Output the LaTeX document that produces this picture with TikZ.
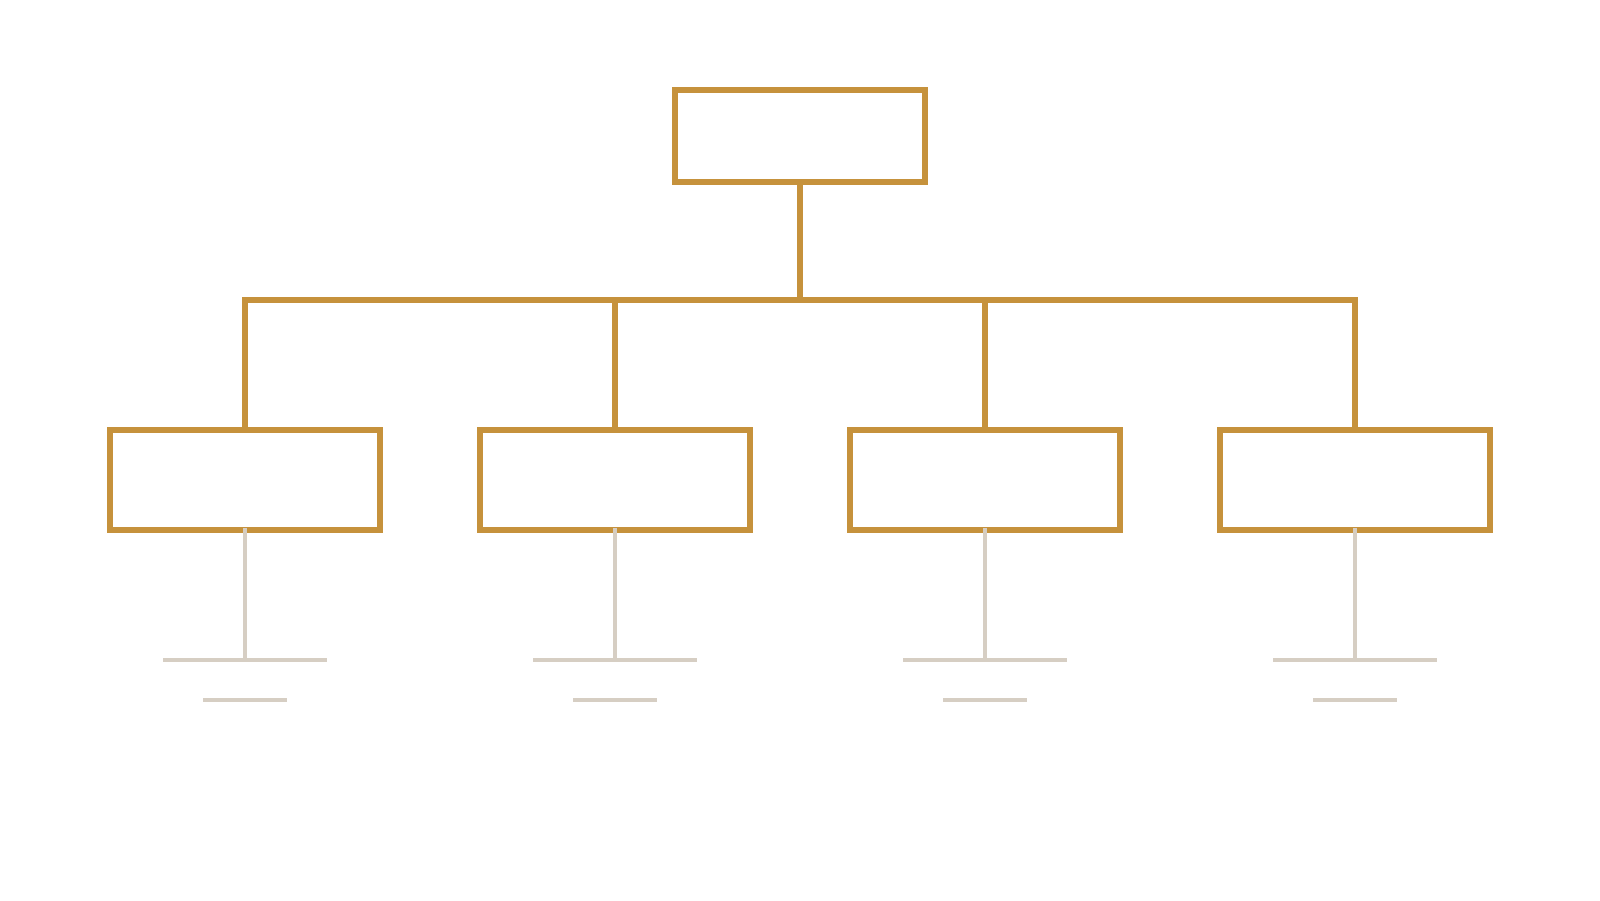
\documentclass[tikz,border=0pt]{standalone}
\definecolor{gold}{HTML}{C6923C}
\definecolor{softgray}{HTML}{D6CEC3}
\begin{document}
\begin{tikzpicture}[x=1pt,y=-1pt,
  box/.style={draw=gold,line width=6pt,fill=white,rectangle,inner sep=0pt,outer sep=0pt},
  topbox/.style={box,minimum width=250pt,minimum height=92pt},
  childbox/.style={box,minimum width=270pt,minimum height=100pt},
  link/.style={draw=gold,line width=6pt,line join=miter},
  stem/.style={draw=softgray,line width=4pt},
  rule/.style={draw=softgray,line width=4pt}]
\fill[white] (0,0) rectangle (1600,900);
\useasboundingbox (0,0) rectangle (1600,900);
\node[topbox] (top) at (800,136) {};
\node[childbox] (c1) at (245,480) {};
\node[childbox] (c2) at (615,480) {};
\node[childbox] (c3) at (985,480) {};
\node[childbox] (c4) at (1355,480) {};
\coordinate (bar) at (800,300);
\draw[link] (top.south) -- (bar);
\draw[link] (c1.north) -- (c1.north |- bar) -- (c4.north |- bar) -- (c4.north);
\draw[link] (c2.north) -- (c2.north |- bar);
\draw[link] (c3.north) -- (c3.north |- bar);
\foreach \i/\x in {1/245,2/615,3/985,4/1355}{
  \coordinate (g\i) at (\x,660);
  \coordinate (r\i) at (\x,700);
  \draw[stem] ([yshift=2pt]c\i.south) -- (g\i);
  \draw[rule] ([xshift=-82pt]g\i) -- ([xshift=82pt]g\i);
  \draw[rule] ([xshift=-42pt]r\i) -- ([xshift=42pt]r\i);
}
\end{tikzpicture}
\end{document}
